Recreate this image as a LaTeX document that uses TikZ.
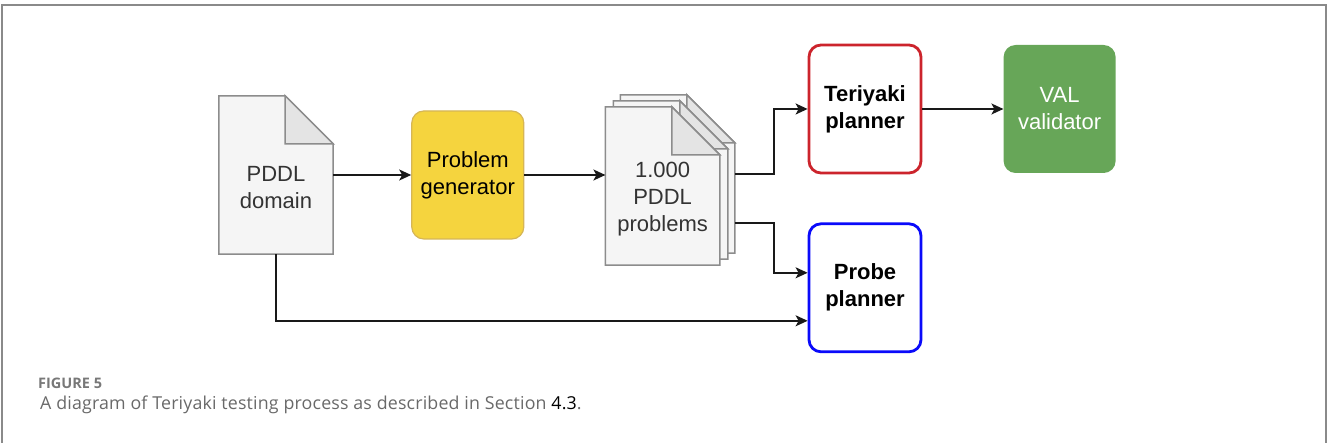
\documentclass[tikz,border=0pt]{standalone}
\usepackage{fontspec}
\setmainfont{Liberation Sans}
\newfontfamily\captionfont{Open Sans}
\usepackage{xcolor}
\usepackage{tikz}
\usetikzlibrary{positioning,arrows.meta,calc}
\definecolor{framegray}{RGB}{138,138,138}
\definecolor{pagegray}{RGB}{245,245,245}
\definecolor{foldgray}{RGB}{228,228,228}
\definecolor{edgegray}{RGB}{140,140,140}
\definecolor{genyellow}{RGB}{245,212,62}
\definecolor{genborder}{RGB}{214,182,86}
\definecolor{teriyakired}{RGB}{204,36,44}
\definecolor{probeblue}{RGB}{10,10,250}
\definecolor{valgreen}{RGB}{103,166,88}
\definecolor{captiongray}{RGB}{105,105,105}
\tikzset{
  doc-node/.style={draw=none, minimum width=114pt, minimum height=158pt, inner sep=0pt},
  doc-outline/.style={draw=edgegray, line width=1.5pt, fill=pagegray, line join=miter},
  doc-text/.style={font=\fontsize{22}{27}\selectfont, align=center, text=black!80},
  box-node/.style={rounded corners=12pt, minimum width=112pt, minimum height=128pt,
    font=\fontsize{22}{27}\selectfont, align=center, inner sep=2pt},
  generator-node/.style={box-node, draw=genborder, line width=1.2pt, fill=genyellow},
  planner-node/.style={box-node, line width=2.8pt, fill=white, font=\fontsize{22}{27}\selectfont\bfseries},
  validator-node/.style={box-node, draw=none, fill=valgreen, text=white},
  flow-arrow/.style={-{Stealth[length=12pt, width=11pt, inset=3pt]}, line width=1.6pt, draw=black!90},
  frame-line/.style={draw=framegray, line width=1.6pt},
  caption-head/.style={font=\captionfont\bfseries\fontsize{14.5}{16}\selectfont, text=captiongray!90, anchor=base west, inner sep=0pt},
  caption-body/.style={font=\captionfont\addfontfeature{LetterSpace=1}\fontsize{17.8}{20}\selectfont, text=captiongray, anchor=base west, inner sep=0pt}
}
% sheet of paper with a folded corner, drawn over a doc-node
\newcommand{\docpage}[1]{%
  \draw[doc-outline] (#1.north west) -- ([xshift=-48pt]#1.north east)
    -- ([yshift=-48pt]#1.north east) -- (#1.south east) -- (#1.south west) -- cycle;
  \draw[doc-outline, fill=foldgray] ([xshift=-48pt]#1.north east)
    -- ([xshift=-48pt,yshift=-48pt]#1.north east) -- ([yshift=-48pt]#1.north east) -- cycle;}

\begin{document}
\begin{tikzpicture}[x=1pt, y=1pt]
\useasboundingbox (0,0) rectangle (1328,443);
% outer frame
\draw[frame-line] (2,0) -- (2,438) -- (1326,438) -- (1326,0);

% Input domain file
\node[doc-node] (domain) at (276,268) {};
\docpage{domain}
\node[doc-text] (domainlabel) at ([yshift=-13pt]domain.center) {PDDL\\domain};

% Generator
\node[generator-node, right=78pt of domain] (generator) {Problem\\generator};

% Stack of generated problems
\node[doc-node, right=81pt of generator, yshift=-11pt] (problems) {};
\node[doc-node] (problems2) at ([shift={(8,6)}]problems.center) {};
\node[doc-node] (problems3) at ([shift={(15,12)}]problems.center) {};
\docpage{problems3}
\docpage{problems2}
\docpage{problems}
\node[doc-text] (problemslabel) at ([yshift=-13pt]problems.center) {1.000\\PDDL\\problems};

% Planners and validator
\node[planner-node, draw=teriyakired] (teriyaki) at (865,334) {Teriyaki\\planner};
\node[planner-node, draw=probeblue, below=48pt of teriyaki] (probe) {Probe\\planner};
\node[validator-node, right=81pt of teriyaki] (val) {VAL\\validator};

% Connections
\draw[flow-arrow] (domain) -- (generator);
\draw[flow-arrow] (generator.east) -- (generator.east -| problems.west);
\draw[flow-arrow] (problems3.east) -- ++(39,0) |- (teriyaki.west);
\draw[flow-arrow] ([yshift=-49pt]problems3.east) -- ++(39,0) |- ([yshift=15pt]probe.west);
\draw[flow-arrow] (domain.south) |- ([yshift=-33pt]probe.west);
\draw[flow-arrow] (teriyaki) -- (val);

% Caption
\node[caption-head] (fignum) at (38,54) {FIGURE 5};
\node[caption-body] (figtext) at (40,33) {A diagram of Teriyaki testing process as described in Section \textcolor{black}{4.3}.};
\end{tikzpicture}
\end{document}
